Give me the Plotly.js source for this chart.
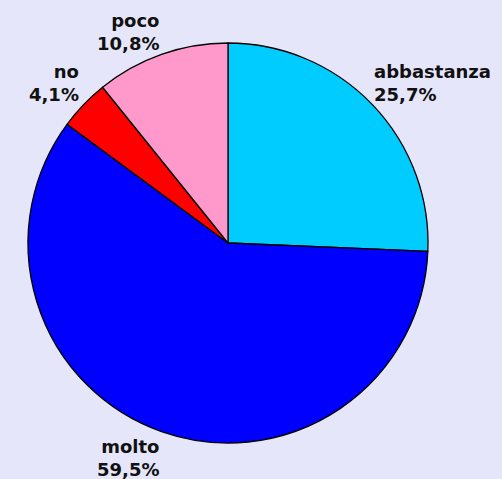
<!DOCTYPE html>
<html><head><meta charset="utf-8">
<script src="https://cdn.plot.ly/plotly-3.0.1.min.js"></script>
<style>html,body{margin:0;padding:0;background:#E6E6FA;}</style>
</head><body>
<div id="chart" style="width:502px;height:479px;"></div>
<script>
const labels = ["abbastanza", "molto", "no", "poco"];
const values = [25.7, 59.5, 4.1, 10.8];
const percentText = ["25,7%", "59,5%", "4,1%", "10,8%"];
const colors = ["#00CCFF", "#0000FF", "#FF0000", "#FF99CC"];

const W = 502, H = 479;
const cx = 228, cy = 243, r = 200;
const labelR = 205;

const data = [{
  type: "pie",
  labels: labels,
  values: values,
  sort: false,
  direction: "clockwise",
  rotation: 0,
  marker: {colors: colors, line: {color: "#000000", width: 1.3}},
  textinfo: "none",
  hoverinfo: "none",
  showlegend: false,
  domain: {x: [(cx - r) / W, (cx + r) / W], y: [(H - cy - r) / H, (H - cy + r) / H]}
}];

// Excel-style label placement: anchored just outside each slice's mid-angle
const total = values.reduce((a, b) => a + b, 0);
let cum = 0;
const annotations = values.map((v, i) => {
  const mid = (cum + v / 2) / total * 2 * Math.PI;
  cum += v;
  const s = Math.sin(mid), c = Math.cos(mid);
  const px = cx + labelR * s, py = cy - labelR * c;
  const right = s > 0;
  const upper = c > 0;
  return {
    xref: "paper", yref: "paper",
    x: px / W, y: 1 - py / H,
    xanchor: right ? "left" : "right",
    yanchor: upper ? "bottom" : "top",
    align: right ? "left" : "right",
    xshift: right ? -3 : 0,
    yshift: upper ? -5 : 1,
    showarrow: false,
    borderpad: 0,
    text: labels[i] + "<br>" + percentText[i],
    font: {family: "DejaVu Sans", size: 18, color: "#111111", weight: "bold"}
  };
});

const layout = {
  width: W, height: H,
  margin: {l: 0, r: 0, t: 0, b: 0},
  paper_bgcolor: "#E6E6FA",
  plot_bgcolor: "#E6E6FA",
  showlegend: false,
  annotations: annotations
};
Plotly.newPlot("chart", data, layout, {displayModeBar: false, staticPlot: true});
</script>
</body></html>
